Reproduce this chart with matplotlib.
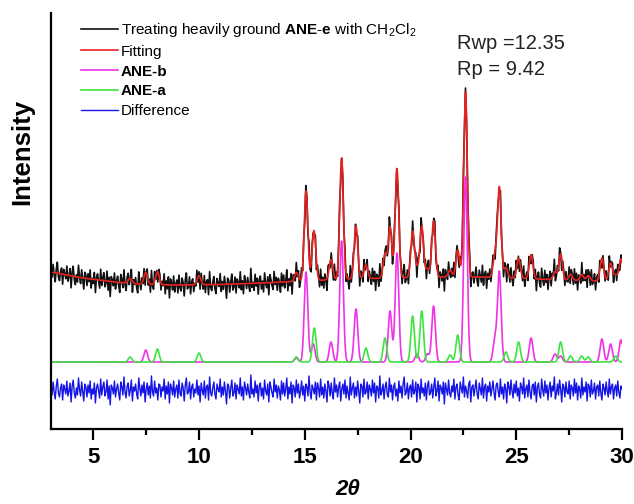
import numpy as np
import matplotlib.pyplot as plt
from matplotlib.ticker import MultipleLocator

plt.rcParams['font.family'] = 'Liberation Sans'
plt.rcParams['mathtext.fontset'] = 'custom'
plt.rcParams['mathtext.rm'] = 'Liberation Sans'
plt.rcParams['mathtext.bf'] = 'Liberation Sans:bold'
plt.rcParams['mathtext.it'] = 'Liberation Sans:italic'

# peak list of ANE-b (2theta, height)
b_pos = [7.48, 14.6, 15.06, 15.4, 16.24, 16.74, 17.42, 19.03, 19.36, 20.3, 20.8,
         21.09, 22.6, 23.99, 24.2, 25.7, 26.83, 27.1, 29.05, 29.46, 29.95]
b_hgt = [12, 4, 90, 18, 20, 121, 53, 51, 109, 8, 8,
         56, 185, 23, 90, 24, 8, 6, 23, 18, 22]

# peak list of ANE-a
a_pos = [6.74, 8.03, 10.0, 14.6, 15.45, 17.89, 18.79, 20.1, 20.53, 21.87, 22.23,
         24.51, 25.11, 27.1, 27.57, 28.09, 28.4, 29.7]
a_hgt = [5, 13, 9, 5, 34, 14, 24, 46, 51, 7, 27,
         10, 20, 20, 6, 6, 5, 6]

# background of the fit
bg_pos = [3, 4.5, 6, 7.5, 9, 11, 13, 15, 17, 19, 21, 23, 25, 27, 29, 30]
bg_val = [157, 151, 147, 144.5, 144, 144.5, 146, 148, 150, 151, 152, 152, 151, 149, 148, 148]

# observed - calculated, 0.05 deg steps from 3 deg
diff = [3, -5, 8, -2, -9, 4, 11, -3, -7, 2, 6, -10, 5, 1, -4, 9, -6, -1, 7, -12,
        4, 10, -3, -8, 2, -5, 12, 0, -6, 8, -2, -11, 6, 3, -7, 5, -3, 9, -9, 1,
        -4, 7, -13, 2, 6, -1, -8, 11, -5, 3, 8, -6, -2, 10, -9, 4, -15, 5, 2, -4,
        9, -7, 1, 6, -3, -10, 8, 3, -5, 13, -2, -8, 4, 7, -6, 0, 10, -11, 3, -1,
        6, -4, -9, 12, 2, -6, 5, -3, 8, -12, 1, 7, -5, 4, -8, 14, -2, -6, 9, -3,
        2, -10, 6, 5, -7, 3, -1, 11, -9, 4, -4, 8, -13, 6, 2, -5, 9, -7, 1, 5,
        -8, 10, -3, -6, 7, 2, -11, 5, 12, -4, -2, 8, -9, 3, 6, -7, 1, -3, 10, -5,
        4, -12, 7, 0, -5, 9, -8, 3, 5, -10, 13, -3, -6, 2, 8, -4, -9, 6, 1, -2,
        11, -7, 3, -5, 8, -1, -14, 6, 4, -8, 2, 10, -6, -3, 7, -9, 5, 1, -4, 12,
        -6, 3, -10, 8, 2, -5, 6, -2, -8, 15, -4, 1, -7, 9, -3, 5, -11, 4, 7, -6,
        2, -9, 10, -1, -5, 6, -12, 8, 3, -3, -7, 11, -2, 5, -8, 4, 0, -10, 9, -4,
        7, -6, 1, 12, -9, 3, -4, 8, -13, 5, 2, -7, 10, -3, 6, -8, -1, 9, -5, 4,
        -11, 6, 3, -6, 14, -2, -9, 5, 1, -4, 8, -10, 7, 2, -7, 11, -5, 3, -8, 6,
        -1, -12, 9, 4, -6, 7, -3, -9, 12, -2, 5, -7, 3, 8, -11, 1, 6, -4, 10, -8,
        4, -3, -10, 13, -5, 2, 7, -8, 3, -6, 9, -1, -13, 6, 4, -7, 11, -4, -2, 8,
        -9, 5, 1, -6, 10, -3, 7, -12, 4, 2, -8, 14, -5, -1, 6, -9, 3, 8, -4, -7,
        12, -2, 5, -10, 3, 7, -6, 1, -11, 9, -3, 4, -8, 6, 13, -5, -2, 7, -9, 2,
        5, -7, 10, -4, -1, 8, -12, 6, 3, -9, 11, -3, 2, -6, 7, -10, 4, 9, -5, -2,
        6, -8, 3, 12, -6, -1, 9, -11, 5, 2, -4, 8, -14, 7, 1, -5, 10, -3, -7, 4,
        -2, 11, -9, 3, 6, -5, -10, 8, 2, -3, 13, -7, 4, -1, -8, 6, 9, -12, 3, 5,
        -6, 2, 10, -4, -9, 7, 1, -5, 12, -8, 3, 6, -11, 4, -2, 8, -6, 1, 9, -3,
        -10, 5, 7, -2, -7, 11, -4, 3, -9, 6, 2, -13, 8, 4, -5, 10, -1, -8, 6, -3,
        9, -6, 2, -11, 7, 3, -4, 12, -8, 1, 5, -7, 10, -2, -9, 4, 6, -5, 8, -12,
        3, 7, -4, -8, 11, 0, -6, 9, -3, 5, -10, 2, 8, -7, 4, -1, 13, -9, -3, 6,
        -5, 10, 1, -12, 6, 3, -7, 8, -2, -4, 9, -9, 5, 2, -6, 11, -3, 7, -10, 4,
        1, -8, 12, -5, 3, -2, 8, -11, 6, 4, -7, 10, -4, -1, 7, -9, 3, 5, -6, 9,
        -3, -10, 6, 2, -5, 8, -1, -7, 11, -4, 3, 6, -9, 2, 5, -6, 9, -2, -8, 4,
        1]

phase_base = 67    # offset of the phase patterns
diff_base = 39     # offset of the difference curve
sigma = 0.085


def peaks(x, pos, hgt):
    pos = np.array(pos)[:, None]
    hgt = np.array(hgt)[:, None]
    return (hgt * np.exp(-0.5 * ((x[None, :] - pos) / sigma) ** 2)).sum(axis=0)


x_obs = 3 + 0.05 * np.arange(len(diff))
x_calc = np.linspace(3, 30, 2701)
diff = np.array(diff, dtype=float)

calc_b = peaks(x_calc, b_pos, b_hgt)
calc_a = peaks(x_calc, a_pos, a_hgt)
fit = np.interp(x_calc, bg_pos, bg_val) + calc_b + calc_a
obs = np.interp(x_obs, bg_pos, bg_val) + peaks(x_obs, b_pos, b_hgt) + peaks(x_obs, a_pos, a_hgt) + diff

fig = plt.figure(figsize=(6.34, 5.04), dpi=100)
ax = fig.add_axes([51 / 634, 1 - 429 / 504, 571 / 634, 416.3 / 504])

ax.plot(x_obs, obs, color='#111111', lw=1.2,
        label=r'Treating heavily ground $\mathbf{ANE}$-$\mathbf{e}$ with CH$_2$Cl$_2$')
ax.plot(x_calc, fit, color='#e8231f', lw=1.2, label='Fitting')
ax.plot(x_calc, phase_base + calc_b, color='#f032e6', lw=1.2, label='ANE-b')
ax.plot(x_calc, phase_base + calc_a, color='#3ee43e', lw=1.2, label='ANE-a')
ax.plot(x_obs, diff_base + diff, color='#1414e6', lw=1.0, label='Difference')

ax.set_xlim(3, 30)
ax.set_ylim(0, 416.3)
ax.spines['top'].set_visible(False)
ax.spines['right'].set_visible(False)
ax.spines['left'].set_linewidth(1.6)
ax.spines['bottom'].set_linewidth(1.6)
ax.set_yticks([])
ax.xaxis.set_major_locator(MultipleLocator(5))
ax.xaxis.set_minor_locator(MultipleLocator(2.5))
ax.tick_params(axis='x', which='major', length=8, width=1.6, labelsize=16, pad=5)
ax.tick_params(axis='x', which='minor', length=4.5, width=1.6)
for lbl in ax.get_xticklabels():
    lbl.set_fontweight('bold')

ax.set_xlabel('2θ', fontsize=16, fontweight='bold', fontstyle='italic')
ax.xaxis.set_label_coords(0.52, -0.12)
ax.set_ylabel('Intensity', fontsize=18.5, fontweight='bold')
ax.yaxis.set_label_coords(-0.03, 0.665)

leg = ax.legend(loc='upper left', bbox_to_anchor=(81 / 634, 1 - 21 / 504),
                bbox_transform=fig.transFigure, frameon=False, fontsize=11,
                handlelength=2.4, handletextpad=0.2, labelspacing=0.38,
                borderpad=0, borderaxespad=0)
for t in leg.get_texts()[2:4]:
    t.set_fontweight('bold')

fig.text(457 / 634, 1 - 49 / 504, 'Rwp =12.35', fontsize=14.5, color='#222222', va='baseline')
fig.text(457 / 634, 1 - 75 / 504, 'Rp = 9.42', fontsize=14.5, color='#222222', va='baseline')

fig.savefig('out.png', dpi=100)
